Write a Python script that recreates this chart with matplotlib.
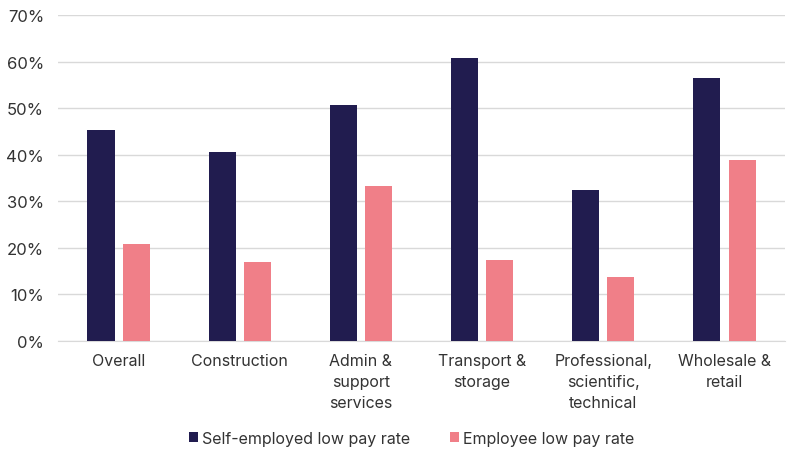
import numpy as np
import matplotlib.pyplot as plt
from matplotlib.ticker import PercentFormatter

plt.rcParams['font.family'] = ['Inter', 'DejaVu Sans']

categories = ["Overall", "Construction", "Admin &\nsupport\nservices", "Transport &\nstorage",
              "Professional,\nscientific,\ntechnical", "Wholesale &\nretail"]
self_employed = [45.2, 40.6, 50.6, 60.7, 32.4, 56.5]
employee = [20.9, 17.0, 33.3, 17.4, 13.7, 38.8]
series_names = ["Self-employed low pay rate", "Employee low pay rate"]

navy, pink, txt = "#211c4f", "#f07f88", "#333333"

fig = plt.figure(figsize=(7.89, 4.52), dpi=100)
ax = fig.add_axes([0.0735, 0.2434, 0.9215, 0.7212])

x = np.arange(len(categories))
w = 0.223
ax.bar(x - 0.145, self_employed, w, color=navy, label=series_names[0], zorder=3)
ax.bar(x + 0.145, employee, w, color=pink, label=series_names[1], zorder=3)

ax.set_ylim(0, 70)
ax.set_yticks(range(0, 71, 10))
ax.yaxis.set_major_formatter(PercentFormatter(decimals=0))
ax.set_xlim(-0.5, len(categories) - 0.5)
ax.set_xticks(x, categories, va='top', linespacing=1.5)
ax.grid(axis='y', color='#d9d9d9', linewidth=1, zorder=0)
for s in ['top', 'right', 'left']:
    ax.spines[s].set_visible(False)
ax.spines['bottom'].set_color('#d9d9d9')
ax.tick_params(axis='both', length=0, colors=txt, labelsize=11.5)
ax.tick_params(axis='y', pad=10, labelsize=12)
ax.tick_params(axis='x', pad=9)

fig.legend(loc='lower center', bbox_to_anchor=(0.522, -0.02), ncol=2, frameon=False,
           fontsize=11.5, handlelength=0.55, handleheight=0.55, handletextpad=0.25,
           columnspacing=2.5, labelcolor=txt)

fig.savefig("out.png", dpi=100)
